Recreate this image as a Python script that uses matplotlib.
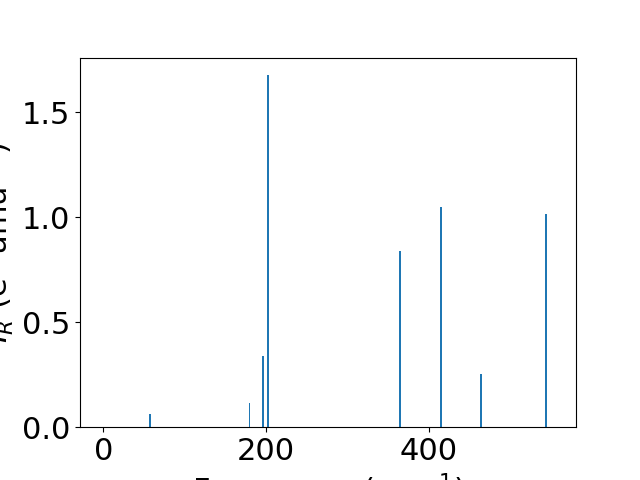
import matplotlib
matplotlib.use("Agg")
import matplotlib.pyplot as plt

frequencies = [0.0, 57.4, 179.5, 196.0, 202.0, 364.7, 414.6, 463.8, 544.2, 552.0]
intensities = [0.0, 0.065, 0.116, 0.338, 1.676, 0.838, 1.048, 0.252, 1.014, 0.0]

plt.rcParams['font.size'] = 22
fig, ax = plt.subplots(figsize=(6.4, 4.8), dpi=100)
ax.bar(frequencies, intensities, width=2, color='#1f77b4')
ax.set_xlabel('Frequency (cm$^{-1}$)')
ax.set_ylabel('$I_R$ (e$^2$ amu$^{-1}$)')
fig.savefig('out.png', dpi=100)
